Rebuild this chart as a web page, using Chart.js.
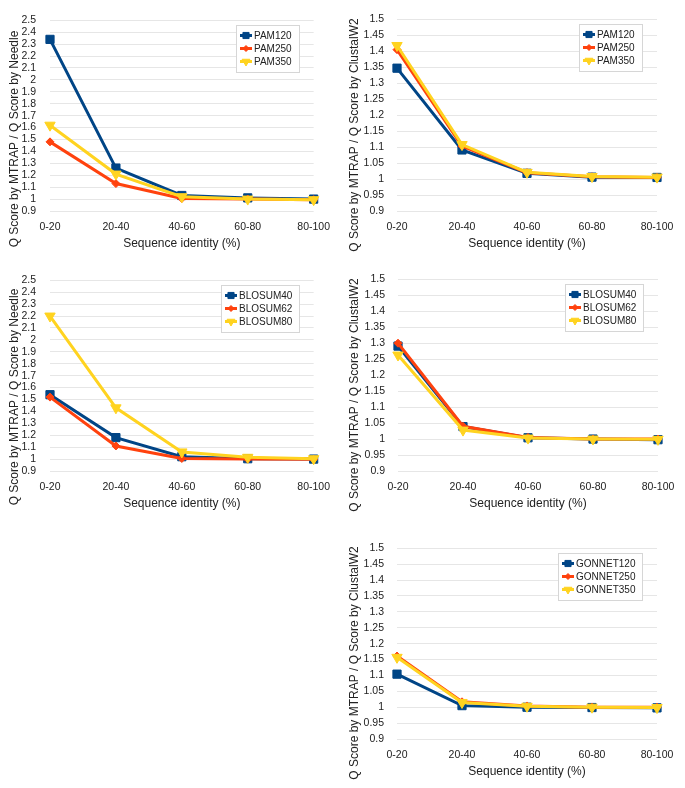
<!DOCTYPE html>
<html>
<head>
<meta charset="utf-8">
<script src="https://cdn.jsdelivr.net/npm/chart.js@4"></script>
<style>
  html, body { margin: 0; padding: 0; background: #fff; overflow: hidden; }
  canvas { position: absolute; }
</style>
</head>
<body>
<canvas id="pamNeedle" width="340" height="260" style="left:0;top:0"></canvas>
<canvas id="pamClustal" width="345" height="260" style="left:340px;top:0"></canvas>
<canvas id="blosumNeedle" width="340" height="260" style="left:0;top:260px"></canvas>
<canvas id="blosumClustal" width="345" height="260" style="left:340px;top:260px"></canvas>
<canvas id="gonnetClustal" width="345" height="259" style="left:340px;top:529px"></canvas>
<script>
// categories on the x axis
const categories = ["0-20", "20-40", "40-60", "60-80", "80-100"];

// y axis ranges: min, max, step
const needleAxis = [0.9, 2.5, 0.1];
const clustalAxis = [0.9, 1.5, 0.05];

const pamLabels = ["PAM120", "PAM250", "PAM350"];
const blosumLabels = ["BLOSUM40", "BLOSUM62", "BLOSUM80"];
const gonnetLabels = ["GONNET120", "GONNET250", "GONNET350"];

// Q score ratio vs Needle
const pam120Needle = [2.34, 1.26, 1.03, 1.01, 1.0];
const pam250Needle = [1.48, 1.13, 1.005, 1.0, 0.995];
const pam350Needle = [1.62, 1.21, 1.02, 1.0, 0.995];

const blosum40Needle = [1.54, 1.18, 1.02, 1.003, 1.0];
const blosum62Needle = [1.52, 1.11, 1.005, 1.0, 0.998];
const blosum80Needle = [2.2, 1.43, 1.06, 1.015, 1.003];

// Q score ratio vs ClustalW2
const pam120Clustal = [1.347, 1.091, 1.018, 1.006, 1.005];
const pam250Clustal = [1.405, 1.103, 1.02, 1.007, 1.005];
const pam350Clustal = [1.418, 1.108, 1.021, 1.008, 1.006];

const blosum40Clustal = [1.291, 1.039, 1.004, 1.0, 0.998];
const blosum62Clustal = [1.3, 1.04, 1.005, 1.0, 1.0];
const blosum80Clustal = [1.263, 1.028, 1.003, 1.0, 0.999];

const gonnet120Clustal = [1.104, 1.005, 1.0, 0.999, 0.998];
const gonnet250Clustal = [1.161, 1.017, 1.004, 1.0, 1.0];
const gonnet350Clustal = [1.157, 1.015, 1.003, 1.0, 0.999];

const FONT = '"Liberation Sans", Arial, sans-serif';
const TEXT = "#222";

const styles = [
  { color: "#004586", pointStyle: "rect", radius: 5.8, rotation: 0 },
  { color: "#ff420e", pointStyle: "rectRot", radius: 4, rotation: 0 },
  { color: "#ffd320", pointStyle: "triangle", radius: 6, rotation: 180 },
];

// rotated y axis title, placed on the canvas
const sideTitle = {
  id: "sideTitle",
  afterDraw(chart, args, opts) {
    const ctx = chart.ctx;
    ctx.save();
    ctx.translate(opts.x, opts.y);
    ctx.rotate(-Math.PI / 2);
    ctx.font = "12px " + FONT;
    ctx.fillStyle = TEXT;
    ctx.textAlign = "center";
    ctx.textBaseline = "middle";
    ctx.fillText(opts.text, 0, 0);
    ctx.restore();
  },
};

// framed legend in the top right of the plot
const boxLegend = {
  id: "boxLegend",
  afterDraw(chart) {
    const ctx = chart.ctx;
    const area = chart.chartArea;
    const ds = chart.data.datasets;
    ctx.save();
    ctx.font = "10px " + FONT;
    const textW = Math.max(...ds.map((d) => ctx.measureText(d.label).width));
    const rowH = 13;
    const w = Math.round(18 + textW + 7);
    const h = ds.length * rowH + 8;
    const x = Math.round(area.right - 15 - w);
    const y = Math.round(area.top + 5);
    ctx.fillStyle = "#fff";
    ctx.fillRect(x, y, w, h);
    ctx.strokeStyle = "#d6d6d6";
    ctx.lineWidth = 1;
    ctx.strokeRect(x + 0.5, y + 0.5, w, h);
    ds.forEach((d, i) => {
      const cy = y + 4 + rowH * i + rowH / 2;
      const sx = x + 4;
      ctx.strokeStyle = d.borderColor;
      ctx.lineWidth = 3;
      ctx.beginPath();
      ctx.moveTo(sx, cy);
      ctx.lineTo(sx + 12, cy);
      ctx.stroke();
      ctx.fillStyle = d.borderColor;
      ctx.lineWidth = 1;
      Chart.helpers.drawPoint(
        ctx,
        { pointStyle: d.pointStyle, radius: d.pointRadius * 0.75, rotation: d.pointRotation, borderWidth: 1 },
        sx + 6,
        cy
      );
      ctx.fillStyle = TEXT;
      ctx.textAlign = "left";
      ctx.textBaseline = "middle";
      ctx.fillText(d.label, sx + 14, cy + 0.5);
    });
    ctx.restore();
  },
};

function makeChart(id, labels, series, axis, yTitle, area) {
  const canvas = document.getElementById(id);
  const W = canvas.width;
  const H = canvas.height;
  return new Chart(canvas.getContext("2d"), {
    type: "line",
    data: {
      labels: categories,
      datasets: series.map((values, i) => ({
        label: labels[i],
        data: values,
        borderColor: styles[i].color,
        backgroundColor: styles[i].color,
        pointBackgroundColor: styles[i].color,
        pointBorderColor: styles[i].color,
        pointStyle: styles[i].pointStyle,
        pointRadius: styles[i].radius,
        pointRotation: styles[i].rotation,
        pointBorderWidth: 1,
        borderWidth: 3,
        tension: 0,
        fill: false,
        order: series.length - 1 - i,
      })),
    },
    options: {
      responsive: false,
      animation: false,
      events: [],
      layout: {
        padding: { left: 0, top: area.top, right: W - area.right, bottom: 0 },
      },
      scales: {
        x: {
          offset: false,
          grid: { display: false, drawTicks: false },
          border: { display: false },
          ticks: {
            autoSkip: false,
            maxRotation: 0,
            padding: 10,
            color: TEXT,
            font: { family: FONT, size: 10.5 },
          },
          title: {
            display: true,
            text: "Sequence identity (%)",
            color: TEXT,
            font: { family: FONT, size: 12 },
            padding: { top: 0, bottom: 9 },
          },
          afterFit: (scale) => { scale.height = H - area.bottom; },
        },
        y: {
          min: axis[0],
          max: axis[1],
          grid: { color: "#e6e6e6", drawTicks: false },
          border: { display: false },
          ticks: {
            stepSize: axis[2],
            autoSkip: false,
            padding: area.tickPad,
            color: TEXT,
            font: { family: FONT, size: 10.5 },
            callback: (v) => String(+v.toFixed(2)),
          },
          afterFit: (scale) => { scale.width = area.left; },
        },
      },
      plugins: {
        legend: { display: false },
        tooltip: { enabled: false },
        sideTitle: { text: yTitle, x: 15, y: area.titleY },
      },
    },
    plugins: [sideTitle, boxLegend],
  });
}

const needleTitle = "Q Score by MTRAP / Q Score by Needle";
const clustalTitle = "Q Score by MTRAP / Q Score by ClustalW2";

makeChart("pamNeedle", pamLabels, [pam120Needle, pam250Needle, pam350Needle], needleAxis, needleTitle,
  { left: 50, right: 318, top: 10, bottom: 211, tickPad: 14, titleY: 139 });
makeChart("pamClustal", pamLabels, [pam120Clustal, pam250Clustal, pam350Clustal], clustalAxis, clustalTitle,
  { left: 57, right: 317, top: 10, bottom: 211, tickPad: 13, titleY: 135 });
makeChart("blosumNeedle", blosumLabels, [blosum40Needle, blosum62Needle, blosum80Needle], needleAxis, needleTitle,
  { left: 50, right: 316, top: 10, bottom: 211, tickPad: 14, titleY: 137 });
makeChart("blosumClustal", blosumLabels, [blosum40Clustal, blosum62Clustal, blosum80Clustal], clustalAxis, clustalTitle,
  { left: 58, right: 318, top: 10, bottom: 211, tickPad: 13, titleY: 135 });
makeChart("gonnetClustal", gonnetLabels, [gonnet120Clustal, gonnet250Clustal, gonnet350Clustal], clustalAxis, clustalTitle,
  { left: 57, right: 317, top: 10, bottom: 210, tickPad: 13, titleY: 134 });
</script>
</body>
</html>
